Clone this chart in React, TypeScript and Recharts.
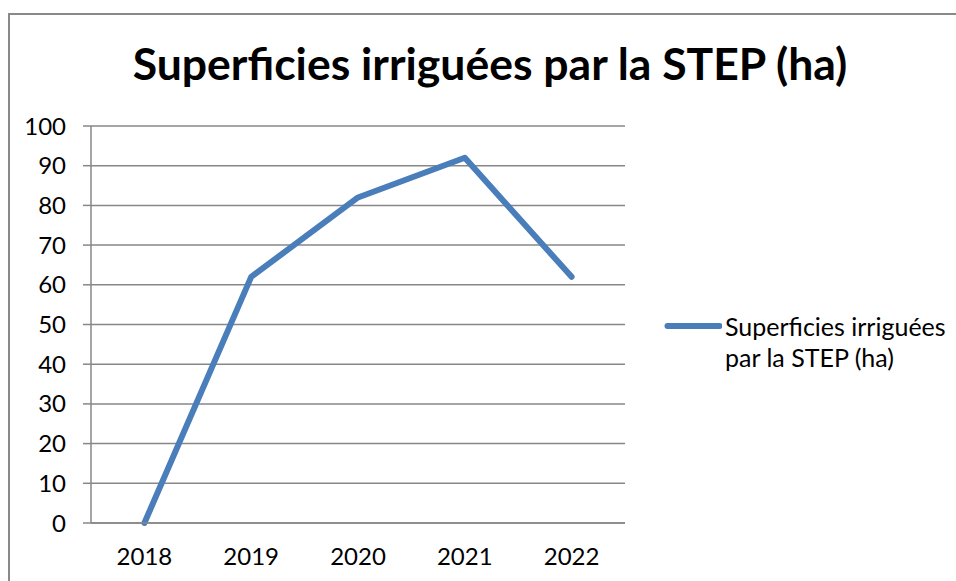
import React from "react";
import { LineChart, Line, XAxis, YAxis, CartesianGrid } from "recharts";

const title = "Superficies irriguées par la STEP (ha)";
const seriesName = "Superficies irriguées par la STEP (ha)";
const years = ["2018", "2019", "2020", "2021", "2022"];
const values = [0, 62, 82, 92, 62];
const yTicks = [0, 10, 20, 30, 40, 50, 60, 70, 80, 90, 100];
const boundaryTicks = [0, 1, 2, 3, 4, 5];

const data = years.map((y, i) => ({ year: y, value: values[i] }));

const FONT = "Lato, 'Open Sans', sans-serif";
const GRID = "#878787";
const BLUE = "#4A7EBB";

export default function App() {
  return (
    <div
      style={{
        position: "absolute",
        left: 0,
        top: 0,
        width: 956,
        height: 581,
        overflow: "hidden",
        background: "#fff",
        fontFamily: FONT,
      }}
    >
      <div
        style={{
          position: "absolute",
          left: 8,
          top: 13,
          width: 1100,
          height: 800,
          border: "2px solid #898989",
          boxSizing: "border-box",
        }}
      />
      <div
        style={{
          position: "absolute",
          left: 0,
          width: 980,
          top: 35,
          textAlign: "center",
          fontWeight: 700,
          fontSize: 44.5,
          lineHeight: "56px",
          color: "#000",
          whiteSpace: "nowrap",
        }}
      >
        {title}
      </div>
      <div style={{ position: "absolute", left: 0, top: 0 }}>
        <LineChart
          width={956}
          height={581}
          data={data}
          margin={{ top: 126, right: 331, bottom: 0, left: 0 }}
        >
          <CartesianGrid
            horizontal={true}
            vertical={false}
            stroke={GRID}
            strokeWidth={1.5}
            xAxisId="cat"
            yAxisId="v"
          />
          <XAxis
            xAxisId="bounds"
            type="number"
            domain={[0, 5]}
            ticks={boundaryTicks}
            tick={false}
            tickSize={8}
            tickLine={{ stroke: GRID, strokeWidth: 1.5 }}
            axisLine={false}
            height={0}
            allowDataOverflow={true}
          />
          <XAxis
            xAxisId="cat"
            dataKey="year"
            type="category"
            scale="point"
            padding={{ left: 53.4, right: 53.4 }}
            tickLine={false}
            tickSize={8}
            tickMargin={17}
            axisLine={{ stroke: GRID, strokeWidth: 1.5 }}
            tick={{ fill: "#000", fontSize: 24, fontFamily: FONT }}
            height={58}
            interval={0}
          />
          <YAxis
            yAxisId="v"
            domain={[0, 100]}
            ticks={yTicks}
            width={91}
            tickSize={8}
            tickMargin={17}
            interval={0}
            tickLine={{ stroke: GRID, strokeWidth: 1.5 }}
            axisLine={{ stroke: GRID, strokeWidth: 1.5 }}
            tick={{ fill: "#000", fontSize: 24, fontFamily: FONT }}
          />
          <Line
            xAxisId="cat"
            yAxisId="v"
            type="linear"
            dataKey="value"
            name={seriesName}
            stroke={BLUE}
            strokeWidth={6}
            strokeLinecap="round"
            strokeLinejoin="round"
            dot={false}
            activeDot={false}
            isAnimationActive={false}
          />
        </LineChart>
      </div>
      <svg
        width={60}
        height={20}
        style={{ position: "absolute", left: 662, top: 316, display: "block" }}
      >
        <line x1={5.5} y1={10} x2={57.5} y2={10} stroke={BLUE} strokeWidth={6} strokeLinecap="round" />
      </svg>
      <div
        style={{
          position: "absolute",
          left: 725,
          top: 311,
          fontSize: 25,
          lineHeight: "31px",
          color: "#000",
          width: 240,
          whiteSpace: "nowrap",
        }}
      >
        Superficies irriguées
        <br />
        par la STEP (ha)
      </div>
    </div>
  );
}
